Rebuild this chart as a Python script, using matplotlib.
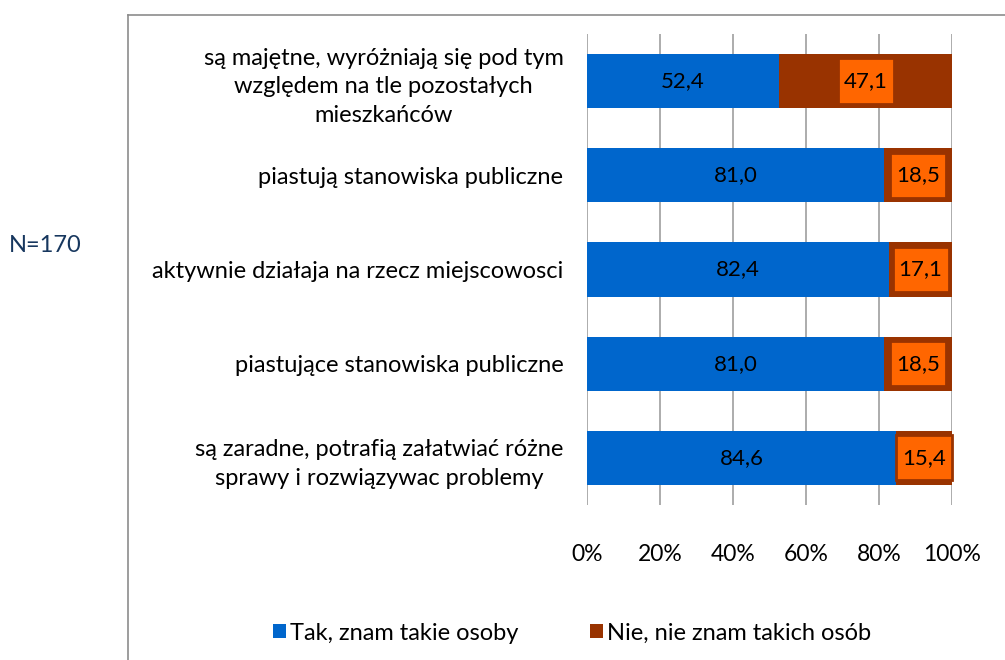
import matplotlib
matplotlib.use("Agg")
import matplotlib.pyplot as plt
import numpy as np

categories = [
    "są majętne, wyróżniają się pod tym\nwzględem na tle pozostałych\nmieszkańców",
    "piastują stanowiska publiczne",
    "aktywnie działaja na rzecz miejscowosci",
    "piastujące stanowiska publiczne",
    "są zaradne, potrafią załatwiać różne\nsprawy i rozwiązywac problemy",
]
tak = [52.4, 81.0, 82.4, 81.0, 84.6]
nie = [47.1, 18.5, 17.1, 18.5, 15.4]
series_names = ["Tak, znam takie osoby", "Nie, nie znam takich osób"]
xticklabels = ["0%", "20%", "40%", "60%", "80%", "100%"]

BLUE = "#0066CC"
BROWN = "#993300"
ORANGE = "#FF6600"

plt.rcParams['font.family'] = ['Lato', 'DejaVu Sans']

fig = plt.figure(figsize=(10.05, 6.6), dpi=100)
ax = fig.add_axes([587/1005, 1 - 505/660, 365/1005, 471/660])

tak_a = np.array(tak)
nie_a = np.array(nie)
tot = tak_a + nie_a
tak_p = tak_a / tot * 100
nie_p = nie_a / tot * 100
y = np.arange(len(categories))
h = 0.575
ax.barh(y, tak_p, height=h, color=BLUE, label=series_names[0], zorder=3)
ax.barh(y, nie_p, left=tak_p, height=h, color=BROWN, label=series_names[1], zorder=3)

for i in range(len(categories)):
    ax.text(tak_p[i] / 2, y[i], f"{tak[i]:.1f}".replace(".", ","), ha="center", va="center",
            fontsize=16, color="black", zorder=4)
    ax.text(tak_p[i] + nie_p[i] / 2, y[i], f"{nie[i]:.1f}".replace(".", ","), ha="center", va="center",
            fontsize=16, color="black", zorder=4,
            bbox=dict(boxstyle="square,pad=0.27", facecolor=ORANGE, edgecolor=BROWN,
                      linewidth=2, mutation_aspect=2.1))

ax.set_xlim(0, 100)
ax.set_ylim(len(categories) - 0.5, -0.5)
ax.set_xticks(np.arange(0, 101, 20))
ax.set_xticklabels(xticklabels, fontsize=16.5)
ax.set_yticks(y)
ax.set_yticklabels(categories, fontsize=17, linespacing=1.45, ha="right", multialignment="center")
ax.tick_params(axis="y", length=0, pad=17)
ax.tick_params(axis="x", length=0, pad=28)
ax.grid(axis="x", color="#A6A6A6", linewidth=1.3, zorder=0)
for s in ax.spines.values():
    s.set_visible(False)

# outer frame (left and top)
fig.add_artist(plt.Line2D([128/1005, 128/1005], [0, 1 - 15/660], color="#8C8C8C", linewidth=1.2))
fig.add_artist(plt.Line2D([128/1005, 1], [1 - 15/660, 1 - 15/660], color="#8C8C8C", linewidth=1.2))

fig.text(45/1005, 1 - 245/660, "N=170", fontsize=17, color="#17375E", ha="center", va="center")

handles, labels = ax.get_legend_handles_labels()
fig.legend(handles, labels, loc="center", bbox_to_anchor=(572/1005, 1 - 633/660), ncol=2,
           frameon=False, fontsize=17, handlelength=0.55, handleheight=0.55, handletextpad=0.2,
           columnspacing=3.0)

fig.savefig("out.png", dpi=100)
